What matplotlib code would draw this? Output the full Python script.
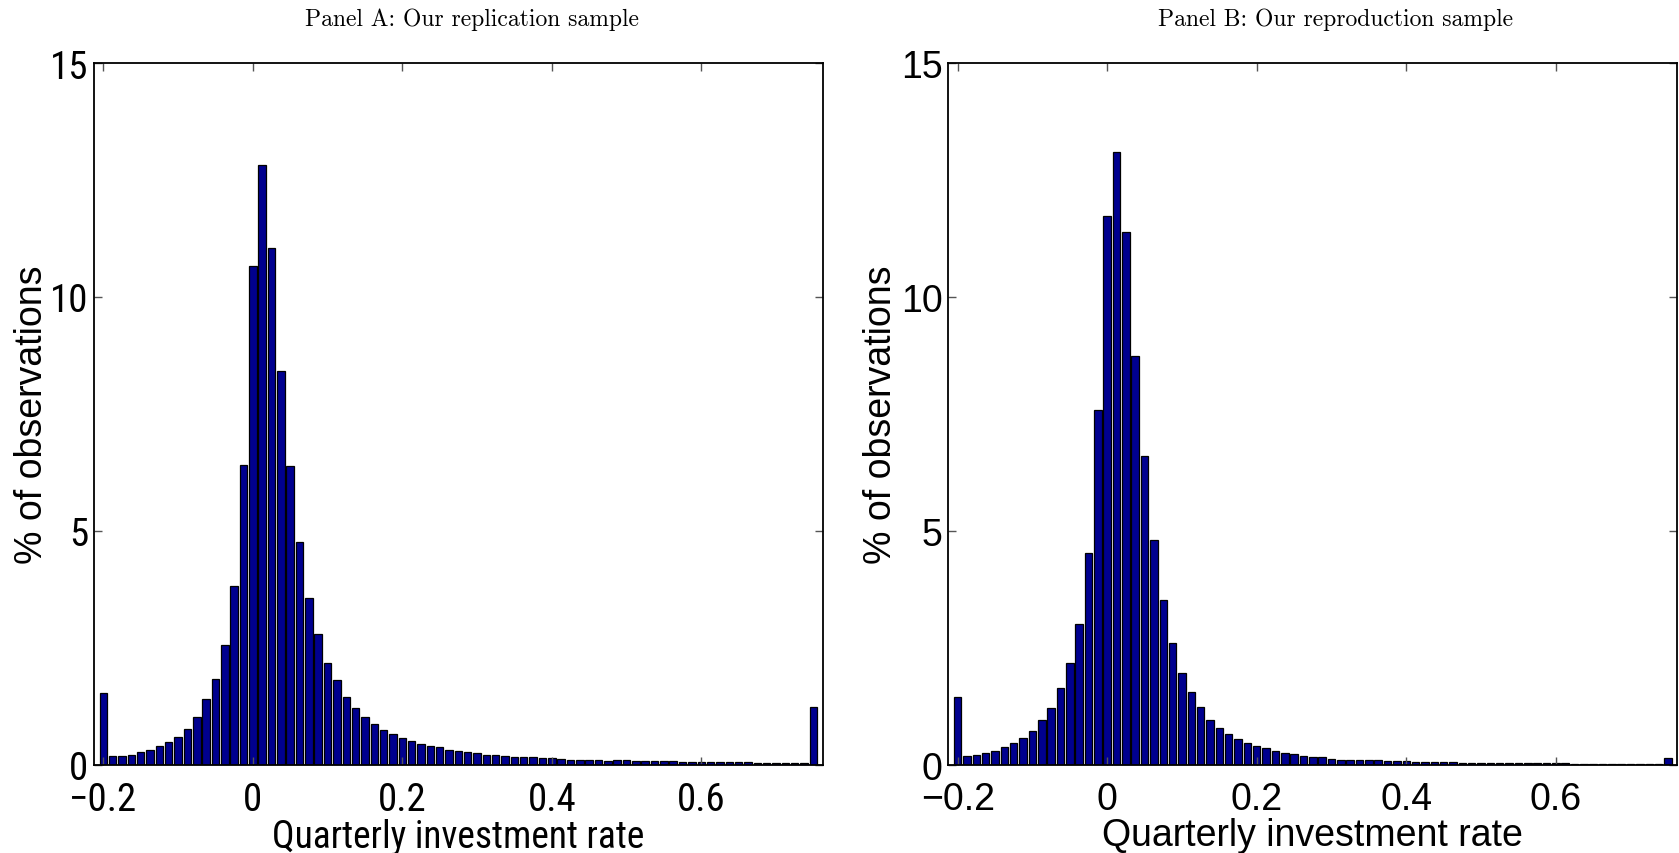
import matplotlib
matplotlib.use("Agg")
import matplotlib.pyplot as plt
from matplotlib import font_manager
import numpy as np

# bin centres of the histogram (width 0.0125, clipped at -0.2 and 0.75)
bin_centers = np.round(-0.2 + 0.0125 * np.arange(77), 4)

replication_pct = [
    1.53, 0.19, 0.19, 0.21, 0.27, 0.31, 0.39, 0.48, 0.60, 0.76,
    1.03, 1.40, 1.83, 2.55, 3.81, 6.41, 10.67, 12.83, 11.05, 8.42,
    6.39, 4.75, 3.57, 2.79, 2.18, 1.80, 1.45, 1.21, 1.03, 0.87,
    0.74, 0.66, 0.57, 0.51, 0.44, 0.39, 0.37, 0.32, 0.29, 0.27,
    0.24, 0.20, 0.20, 0.19, 0.17, 0.17, 0.16, 0.14, 0.14, 0.12,
    0.11, 0.10, 0.10, 0.09, 0.08, 0.10, 0.09, 0.08, 0.07, 0.07,
    0.07, 0.08, 0.06, 0.06, 0.05, 0.05, 0.05, 0.05, 0.06, 0.06,
    0.04, 0.04, 0.04, 0.04, 0.04, 0.04, 1.24,
]

reproduction_pct = [
    1.45, 0.19, 0.21, 0.24, 0.30, 0.37, 0.46, 0.57, 0.72, 0.96,
    1.21, 1.64, 2.17, 3.01, 4.52, 7.58, 11.74, 13.10, 11.39, 8.74,
    6.60, 4.80, 3.53, 2.61, 1.95, 1.56, 1.24, 0.96, 0.79, 0.65,
    0.54, 0.46, 0.40, 0.35, 0.29, 0.25, 0.23, 0.19, 0.17, 0.16,
    0.13, 0.11, 0.11, 0.11, 0.10, 0.09, 0.07, 0.07, 0.07, 0.06,
    0.06, 0.05, 0.05, 0.05, 0.04, 0.04, 0.04, 0.04, 0.04, 0.04,
    0.04, 0.04, 0.03, 0.03, 0.03, 0.03, 0.02, 0.02, 0.02, 0.02,
    0.02, 0.02, 0.02, 0.02, 0.02, 0.02, 0.14,
]

panels = [
    ("Panel A: Our replication sample", replication_pct),
    ("Panel B: Our reproduction sample", reproduction_pct),
]

xticks = [-0.2, 0, 0.2, 0.4, 0.6]
xtick_labels = ["\u22120.2", "0", "0.2", "0.4", "0.6"]
yticks = [0, 5, 10, 15]

bar_color = "#00008f"


def pick_font(names):
    for name in names:
        try:
            font_manager.findfont(name, fallback_to_default=False)
            return name
        except ValueError:
            pass
    return "DejaVu Sans"


narrow_font = pick_font(["Liberation Sans Narrow", "Roboto Condensed", "Liberation Sans"])
sans_font = pick_font(["Liberation Sans", "DejaVu Sans"])
serif_font = pick_font(["cmr10", "Liberation Serif", "DejaVu Serif"])

fig = plt.figure(figsize=(16.79, 8.54), dpi=100)

# axes boxes measured in pixels: left, right, top, bottom
boxes = [(94, 822.7, 64, 765.7), (948.3, 1677.3, 64, 765.7)]
title_x = [472, 1336]
fonts = [narrow_font, sans_font]
tick_sizes = [28, 27]
ylabel_x = [-0.06, -0.067]

for i, (title, pct) in enumerate(panels):
    l, r, t, b = boxes[i]
    ax = fig.add_axes([l / 1679, (854 - b) / 854, (r - l) / 1679, (b - t) / 854])
    ax.bar(bin_centers, pct, width=0.01, color=bar_color, edgecolor="black",
           linewidth=0.9)
    ax.set_xlim(-0.2125, 0.7625)
    ax.set_ylim(0, 15)
    ax.set_xticks(xticks)
    ax.set_xticklabels(xtick_labels)
    ax.set_yticks(yticks)
    ax.tick_params(direction="in", length=6, width=1, color="#555555",
                   top=True, right=True, labelsize=tick_sizes[i])
    ax.tick_params(axis="x", pad=12)
    ax.tick_params(axis="y", pad=4)
    for lab in ax.get_xticklabels() + ax.get_yticklabels():
        lab.set_family(fonts[i])
    for sp in ax.spines.values():
        sp.set_linewidth(1.3)
    ax.set_xlabel("Quarterly investment rate", fontsize=27, family=fonts[i],
                  labelpad=0)
    ax.set_ylabel("% of observations", fontsize=27, family=sans_font)
    ax.yaxis.set_label_coords(ylabel_x[i], 0.5)
    fig.text(title_x[i] / 1679, 1 - 20 / 854, title, ha="center", va="center",
             fontsize=17, family=serif_font)

plt.savefig("out.png", dpi=100)
